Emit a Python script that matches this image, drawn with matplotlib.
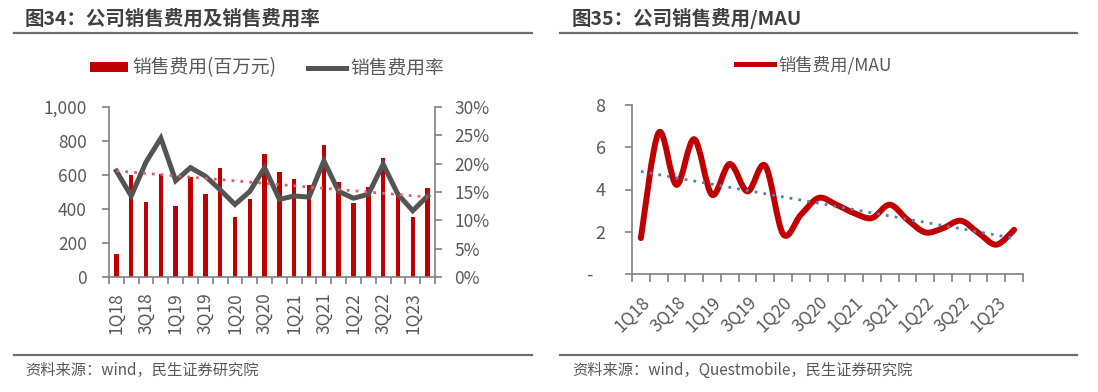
import numpy as np
import matplotlib
matplotlib.use("Agg")
import matplotlib.pyplot as plt
from matplotlib.path import Path
from matplotlib.patches import PathPatch, Patch
from matplotlib.lines import Line2D

plt.rcParams['font.family'] = ['Noto Sans CJK SC', 'DejaVu Sans']

# ---------------- data ----------------
quarters = ['1Q18', '2Q18', '3Q18', '4Q18', '1Q19', '2Q19', '3Q19', '4Q19',
            '1Q20', '2Q20', '3Q20', '4Q20', '1Q21', '2Q21', '3Q21', '4Q21',
            '1Q22', '2Q22', '3Q22', '4Q22', '1Q23', '2Q23']
sales_expense = [135, 600, 443, 603, 418, 586, 488, 641,
                 354, 459, 723, 619, 574, 541, 777, 559,
                 436, 531, 701, 500, 355, 521]
sales_rate = [18.7, 14.3, 20.3, 24.5, 17.0, 19.3, 17.8, 15.4,
              12.8, 15.1, 19.3, 13.7, 14.3, 14.1, 20.5, 15.1,
              13.9, 14.6, 19.9, 14.6, 11.7, 14.3]
expense_per_mau = [1.70, 6.69, 4.22, 6.38, 3.75, 5.21, 3.91, 5.12,
                   1.89, 2.80, 3.60, 3.28, 2.88, 2.65, 3.28, 2.57,
                   1.97, 2.17, 2.52, 1.94, 1.39, 2.09]
left_yticks = [0, 200, 400, 600, 800, 1000]
left_ylabels = ['0', '200', '400', '600', '800', '1,000']
right_yticks = [0, 5, 10, 15, 20, 25, 30]
right_ylabels = ['0%', '5%', '10%', '15%', '20%', '25%', '30%']
mau_yticks = [0, 2, 4, 6, 8]
mau_ylabels = ['-   ', '2', '4', '6', '8']

title1 = '图34：公司销售费用及销售费用率'
title2 = '图35：公司销售费用/MAU'
legend1 = ['销售费用(百万元)', '销售费用率']
legend2 = '销售费用/MAU'
source1 = '资料来源：wind，民生证券研究院'
source2 = '资料来源：wind，Questmobile，民生证券研究院'

# ---------------- style ----------------
RED = '#C00000'
GRAY_LINE = '#545454'
TXT = '#595959'
SPINE = '#808080'
W, H = 1098, 392

fig = plt.figure(figsize=(W / 100, H / 100), dpi=100)


def fx(px):
    return px / W


def fy(py):
    return 1 - py / H


n = len(quarters)
x = np.arange(n)

# ---------------- left chart ----------------
ax1 = fig.add_axes([fx(109), fy(277), fx(435) - fx(109), fy(107) - fy(277)])
ax1.bar(x, sales_expense, width=0.3, color=RED, zorder=2)
ax1.set_xlim(-0.5, n - 0.5)
ax1.set_ylim(0, 1000)
ax1.set_yticks(left_yticks)
ax1.set_yticklabels(left_ylabels)
ax2 = ax1.twinx()
ax2.plot(x, sales_rate, color=GRAY_LINE, lw=3.6, zorder=3, solid_joinstyle='miter')
coef = np.polyfit(x, sales_rate, 1)
ax2.plot(x, np.polyval(coef, x), color='#E06060', lw=2.0, ls=(0, (1, 2.2)), zorder=4)
ax2.set_ylim(0, 30)
ax2.set_yticks(right_yticks)
ax2.set_yticklabels(right_ylabels)

for a in (ax1, ax2):
    a.spines['top'].set_visible(False)
    for s in ('left', 'right', 'bottom'):
        a.spines[s].set_color(SPINE)
        a.spines[s].set_linewidth(1.2)
    a.set_facecolor('none')
ax1.spines['right'].set_visible(False)
ax2.spines['left'].set_visible(False)
ax2.spines['bottom'].set_visible(False)

ax1.tick_params(axis='y', direction='out', length=5, width=1.2, color=SPINE,
                labelsize=12.5, labelcolor=TXT, pad=11)
ax2.tick_params(axis='y', direction='out', length=5, width=1.2, color=SPINE,
                labelsize=12.5, labelcolor=TXT, pad=9)
ax1.set_xticks(x[::2])
ax1.set_xticklabels(quarters[::2], rotation=90, fontsize=12.5, color=TXT)
ax1.tick_params(axis='x', which='major', length=0, pad=11)
ax1.set_xticks(np.arange(-0.5, n, 1), minor=True)
ax1.tick_params(axis='x', which='minor', direction='out', length=5, width=1.2, color=SPINE)

# ---------------- right chart ----------------
ax3 = fig.add_axes([fx(632), fy(274), fx(1023) - fx(632), fy(105) - fy(274)])
yv = np.array(expense_per_mau, dtype=float)
pts = np.column_stack([x, yv])
verts = [pts[0]]
codes = [Path.MOVETO]
for i in range(n - 1):
    p0 = pts[i - 1] if i > 0 else pts[i]
    p1 = pts[i]
    p2 = pts[i + 1]
    p3 = pts[i + 2] if i + 2 < n else pts[i + 1]
    c1 = p1 + (p2 - p0) / 6.0
    c2 = p2 - (p3 - p1) / 6.0
    verts += [c1, c2, p2]
    codes += [Path.CURVE4] * 3
ax3.add_patch(PathPatch(Path(verts, codes), facecolor='none', edgecolor=RED,
                        lw=4.3, capstyle='round', joinstyle='round', zorder=3))
coef2 = np.polyfit(x, yv, 1)
ax3.plot(x, np.polyval(coef2, x), color='#4F81BD', lw=2.0, ls=(0, (1, 2.2)), zorder=4)
ax3.set_xlim(-0.5, n - 0.5)
ax3.set_ylim(0, 8)
ax3.set_yticks(mau_yticks)
ax3.set_yticklabels(mau_ylabels)
for s in ('top', 'right'):
    ax3.spines[s].set_visible(False)
for s in ('left', 'bottom'):
    ax3.spines[s].set_color(SPINE)
    ax3.spines[s].set_linewidth(1.2)
ax3.tick_params(axis='y', direction='out', length=5, width=1.2, color=SPINE,
                labelsize=13, labelcolor=TXT, pad=14)
ax3.set_xticks(x[::2])
ax3.set_xticklabels(quarters[::2], rotation=45, ha='right', va='top',
                    rotation_mode='anchor', fontsize=12.5, color=TXT)
ax3.tick_params(axis='x', which='major', length=0, pad=14)
ax3.set_xticks(np.arange(-0.5, n, 1), minor=True)
ax3.tick_params(axis='x', which='minor', direction='out', length=6, width=1.2, color=SPINE)

# ---------------- legends ----------------
h1 = [Patch(facecolor=RED, edgecolor='none'),
      Line2D([], [], color=GRAY_LINE, lw=3.6)]
lg1 = fig.legend(h1, legend1, loc='center', bbox_to_anchor=(fx(267), fy(68)),
                 ncol=2, frameon=False, fontsize=13.5, handlelength=2.0,
                 handleheight=0.4, handletextpad=0.25, columnspacing=1.7,
                 labelcolor=TXT)
h2 = [Line2D([], [], color=RED, lw=3.6)]
lg2 = fig.legend(h2, [legend2], loc='center', bbox_to_anchor=(fx(814), fy(65)),
                 frameon=False, fontsize=12.5, handlelength=2.2,
                 handletextpad=0.25, labelcolor=TXT)

# ---------------- titles, rules, sources ----------------
fig.text(fx(25), fy(18.5), title1, fontsize=14, fontweight='bold', color='#404040',
         ha='left', va='center')
fig.text(fx(572), fy(18.5), title2, fontsize=14, fontweight='bold', color='#404040',
         ha='left', va='center')
for (x0, x1) in ((14, 532), (560, 1077)):
    for yy in (33, 355):
        fig.add_artist(Line2D([fx(x0), fx(x1)], [fy(yy), fy(yy)], color='#6E6E6E',
                              lw=1.6, transform=fig.transFigure))
fig.text(fx(25), fy(370), source1, fontsize=11, color=TXT, ha='left', va='center')
fig.text(fx(572), fy(370), source2, fontsize=11, color=TXT, ha='left', va='center')

fig.savefig('out.png', dpi=100, facecolor='white')
